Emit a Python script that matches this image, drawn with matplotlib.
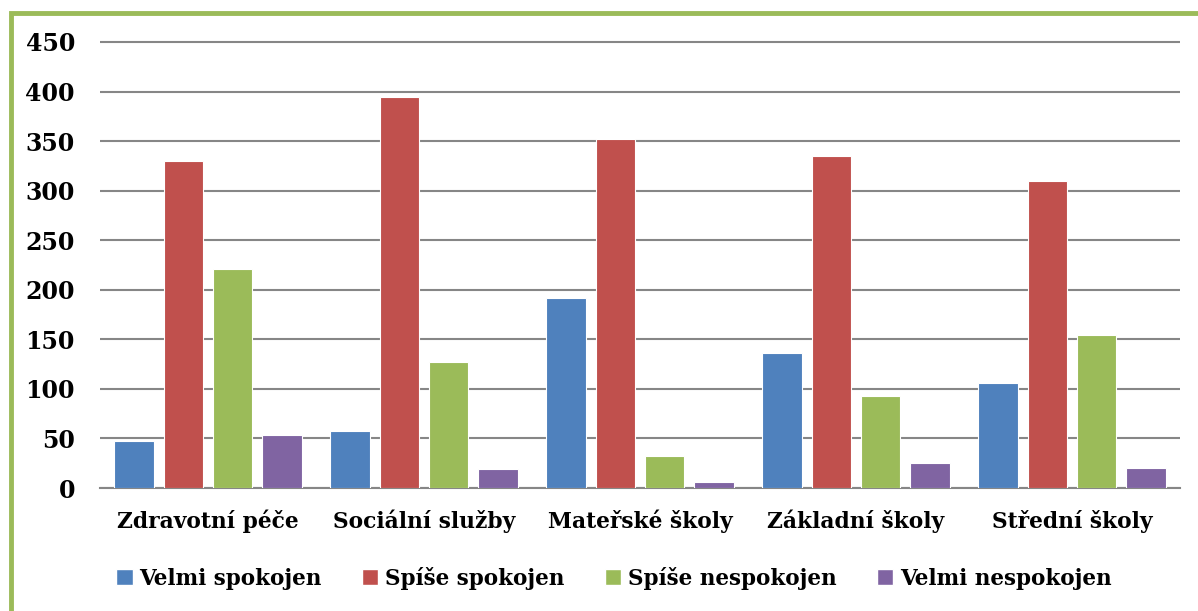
import numpy as np
import matplotlib.pyplot as plt
from matplotlib.patches import Rectangle, Patch

categories = ['Zdravotní péče', 'Sociální služby', 'Mateřské školy', 'Základní školy', 'Střední školy']
series_names = ['Velmi spokojen', 'Spíše spokojen', 'Spíše nespokojen', 'Velmi nespokojen']
velmi_spokojen = [47, 58, 192, 136, 106]
spise_spokojen = [330, 394, 352, 335, 310]
spise_nespokojen = [221, 127, 32, 93, 154]
velmi_nespokojen = [53, 19, 6, 25, 20]
colors = ['#4F81BD', '#C0504D', '#9BBB59', '#8064A2']

plt.rcParams['font.family'] = ['DejaVu Serif']
plt.rcParams['font.weight'] = 'bold'

fig = plt.figure(figsize=(11.98, 6.11), dpi=100)
# axes spans 0..452 so the top gridline is not clipped
ax = fig.add_axes([100 / 1198, 1 - 488 / 611, 1080 / 1198, 448 / 611])

# green frame (left and top edges visible)
fig.patches.append(Rectangle((10.5 / 1198, -0.05), 1.2, 1 - 13.5 / 611 + 0.05,
                             transform=fig.transFigure, fill=False,
                             edgecolor='#9BBB59', linewidth=3.5))

x = np.arange(len(categories))
step = 0.227
width = 0.185
all_series = [velmi_spokojen, spise_spokojen, spise_nespokojen, velmi_nespokojen]
for k, (vals, name, c) in enumerate(zip(all_series, series_names, colors)):
    ax.bar(x + (k - 1.5) * step, vals, width, color=c, label=name,
           edgecolor='white', linewidth=0.8, zorder=3)

ax.set_xlim(-0.5, len(categories) - 0.5)
ax.set_ylim(0, 452)
ax.set_yticks(np.arange(0, 451, 50))
ax.set_xticks(x)
ax.set_xticklabels(categories, fontsize=15.7, fontweight='bold', va='baseline')
ax.tick_params(axis='y', labelsize=17, length=0, pad=18)
ax.tick_params(axis='x', length=0, pad=29)
ax.yaxis.grid(True, color='#868686', linewidth=1.5, zorder=0)
for s in ['top', 'right', 'left']:
    ax.spines[s].set_visible(False)
ax.spines['bottom'].set_color('#868686')
ax.spines['bottom'].set_linewidth(1.5)

handles = [Patch(facecolor=c, edgecolor='white') for c in colors]
fig.legend(handles, series_names, loc='center', bbox_to_anchor=(614 / 1198, 1 - 578 / 611),
           ncol=4, frameon=False, handlelength=0.75, handleheight=0.75,
           handletextpad=0.3, columnspacing=1.9, prop={'weight': 'bold', 'size': 15.5})

fig.savefig('out.png', dpi=100)
